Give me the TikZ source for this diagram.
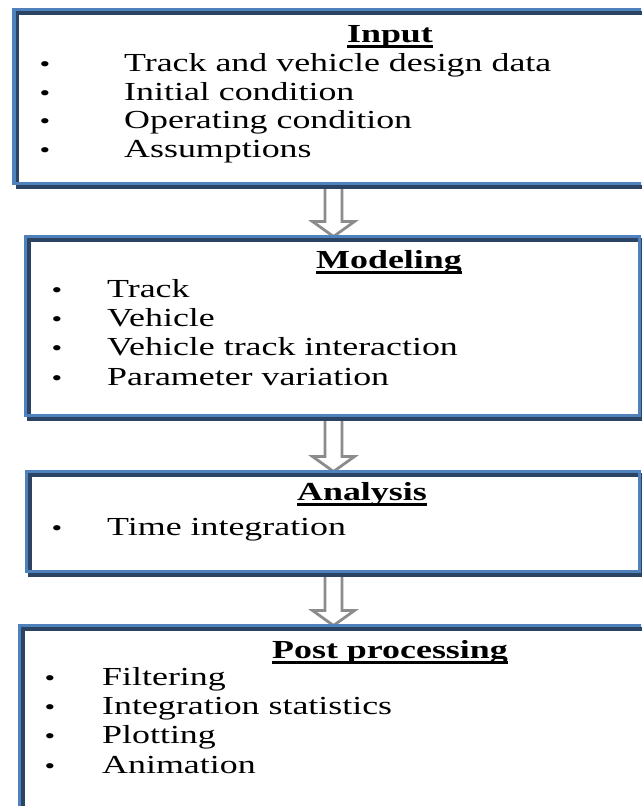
\documentclass[tikz,border=0pt]{standalone}
\usepackage{fontspec}
\setmainfont{Liberation Serif}[FakeStretch=1.38]
\usetikzlibrary{calc,backgrounds}

\definecolor{frameblue}{HTML}{4F81BD}
\definecolor{frameshade}{HTML}{2C4463}
\definecolor{arrowgray}{HTML}{8C8C8C}

\tikzset{
  panel/.style={draw=frameblue, line width=3.5pt, rectangle, anchor=north west,
                outer sep=0pt, inner sep=0pt},
  panelshade/.style={draw=frameshade, line width=3.5pt},
  title/.style={font=\bfseries\fontsize{26}{29}\selectfont, anchor=base, inner sep=0pt},
  item/.style={font=\fontsize{26}{29}\selectfont, anchor=base west, inner sep=0pt},
  dot/.style={font=\fontsize{22}{29}\selectfont, anchor=base, inner sep=0pt},
  ul/.style={line width=2.2pt},
  flowarrow/.style={draw=arrowgray, line width=2.8pt, line join=miter},
}

% hollow block arrow from the bottom of one panel (#1) to the top of the next (#2)
\newcommand{\blockarrow}[2]{%
  \draw[flowarrow] ($(#1)+(-8.5,2)$) -- ($(#2)+(-8.5,-15)$) -- ($(#2)+(-21,-15)$)
    -- (#2) -- ($(#2)+(21,-15)$) -- ($(#2)+(8.5,-15)$) -- ($(#1)+(8.5,2)$);
}
% underline below a title node
\newcommand{\underlinetitle}[1]{%
  \draw[ul] ($(#1.base west)+(0,4.5)$) -- ($(#1.base east)+(0,4.5)$);
}

\begin{document}
\begin{tikzpicture}[x=1pt, y=-1pt]
  \useasboundingbox (0,0) rectangle (641,806);
  \clip (0,0) rectangle (641,806);

  % panels
  \node[panel, minimum width=646pt, minimum height=174pt] (b1) at (14,9.5) {};
  \node[panel, minimum width=614pt, minimum height=179pt] (b2) at (25.5,236.5) {};
  \node[panel, minimum width=613pt, minimum height=100pt] (b3) at (26.5,471.5) {};
  \node[panel, minimum width=700pt, minimum height=300pt] (b4) at (19.5,625.5) {};

  % arrow axis
  \coordinate (ax) at (333.5,0);
  \coordinate (a1s) at (b1.south -| ax);
  \coordinate (a1e) at (b2.north -| ax);
  \coordinate (a2s) at (b2.south -| ax);
  \coordinate (a2e) at (b3.north -| ax);
  \coordinate (a3s) at (b3.south -| ax);
  \coordinate (a3e) at (b4.north -| ax);

  \begin{scope}[on background layer]
    \blockarrow{a1s}{a1e}
    \blockarrow{a2s}{a2e}
    \blockarrow{a3s}{a3e}
    \foreach \b in {b1,b2,b3,b4}
      \draw[panelshade] ($(\b.north west)+(3.5,3.5)$) rectangle ($(\b.south east)+(3.5,3.5)$);
  \end{scope}

  % Input
  \node[title] (t1) at (390,42) {Input};
  \underlinetitle{t1}
  \node[dot] (d11) at (45,71) {•};
  \node[item] (i11) at (124,71) {Track and vehicle design data};
  \node[dot] (d12) at (45,100) {•};
  \node[item] (i12) at (124,100) {Initial condition};
  \node[dot] (d13) at (45,128) {•};
  \node[item] (i13) at (124,128) {Operating condition};
  \node[dot] (d14) at (45,157) {•};
  \node[item] (i14) at (124,157) {Assumptions};

  % Modeling
  \node[title] (t2) at (389,268) {Modeling};
  \underlinetitle{t2}
  \node[dot] (d21) at (57,297) {•};
  \node[item] (i21) at (107,297) {Track};
  \node[dot] (d22) at (57,326) {•};
  \node[item] (i22) at (107,326) {Vehicle};
  \node[dot] (d23) at (57,355) {•};
  \node[item] (i23) at (107,355) {Vehicle track interaction};
  \node[dot] (d24) at (57,385) {•};
  \node[item] (i24) at (107,385) {Parameter variation};

  % Analysis
  \node[title] (t3) at (362,500) {Analysis};
  \underlinetitle{t3}
  \node[dot] (d31) at (57,535) {•};
  \node[item] (i31) at (107,535) {Time integration};

  % Post processing
  \node[title] (t4) at (390,658) {Post processing};
  \underlinetitle{t4}
  \node[dot] (d41) at (50,685) {•};
  \node[item] (i41) at (102,685) {Filtering};
  \node[dot] (d42) at (50,714) {•};
  \node[item] (i42) at (102,714) {Integration statistics};
  \node[dot] (d43) at (50,743) {•};
  \node[item] (i43) at (102,743) {Plotting};
  \node[dot] (d44) at (50,773) {•};
  \node[item] (i44) at (102,773) {Animation};
\end{tikzpicture}
\end{document}
